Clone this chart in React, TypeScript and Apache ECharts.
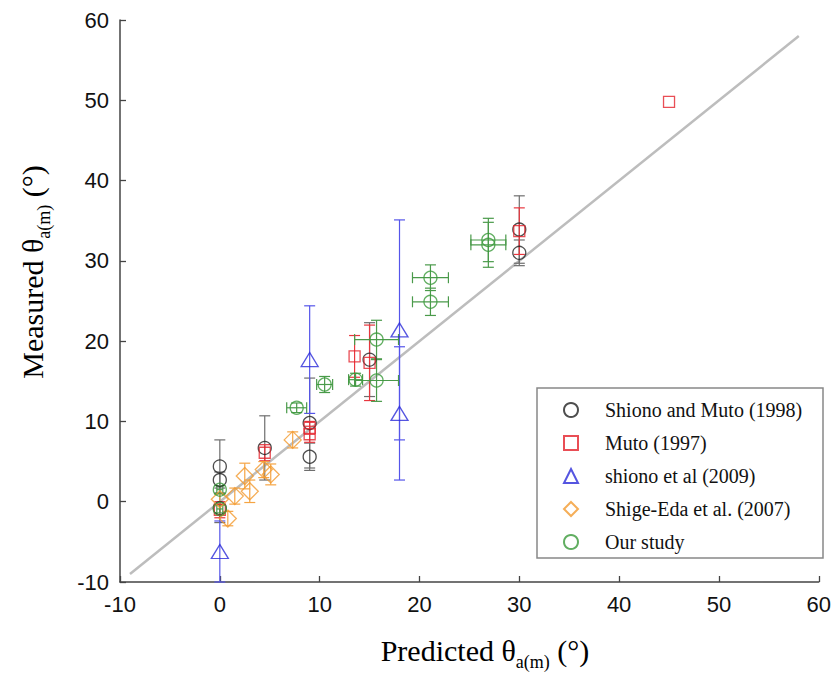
import React, { useEffect, useRef } from "react";
import * as echarts from "echarts";

// Shiono and Muto (1998): [predicted, measured, yErr]
const shionoMuto1998: number[][] = [
  [0, 4.4, 3.3],
  [0, 2.7, 1.0],
  [0, -0.8, 1.8],
  [4.5, 6.7, 4.0],
  [9, 9.8, 5.6],
  [9, 5.6, 1.7],
  [15, 17.7, 4.6],
  [30, 33.9, 4.2],
  [30, 31.0, 1.6],
];
// Muto (1997)
const muto1997: number[][] = [
  [0, -1.0, 1.0],
  [4.5, 6.1, 1.0],
  [9, 9.2, 0.8],
  [9, 8.4, 1.0],
  [13.5, 18.1, 2.6],
  [15, 17.3, 4.7],
  [30, 33.7, 2.9],
  [45, 49.8, 0],
];
// shiono et al (2009)
const shiono2009: number[][] = [
  [0, -6.2, 3.8],
  [9, 17.7, 6.7],
  [18, 21.4, 13.7],
  [18, 11.0, 8.3],
];
// Shige-Eda et al. (2007)
const shigeEda2007: number[][] = [
  [0, 0.3, 0.7],
  [0.8, -2.1, 0.9],
  [1.5, 0.7, 1.0],
  [2.5, 3.2, 1.6],
  [3.0, 1.3, 1.4],
  [4.4, 4.0, 1.0],
  [5.1, 3.4, 1.3],
  [7.3, 7.7, 1.0],
];
// Our study: [predicted, measured, yErr, xErr]
const ourStudy: number[][] = [
  [0, 1.5, 0.5, 0.3],
  [0, -0.9, 0.5, 0.3],
  [7.7, 11.7, 0.6, 1.0],
  [10.5, 14.6, 1.0, 0.8],
  [13.6, 15.2, 0.8, 0.7],
  [15.7, 15.1, 2.6, 2.2],
  [15.7, 20.2, 2.4, 2.2],
  [21.1, 27.9, 1.6, 1.8],
  [21.1, 24.9, 1.7, 1.8],
  [26.9, 32.0, 2.8, 1.75],
  [26.9, 32.6, 2.7, 1.75],
];
const identityLine: number[][] = [
  [-9, -9],
  [58, 58],
];
const axisTicks = { min: -10, max: 60, interval: 10 };
const seriesNames = [
  "Shiono and Muto (1998)",
  "Muto (1997)",
  "shiono et al (2009)",
  "Shige-Eda et al. (2007)",
  "Our study",
];

const CAP = 5.5;

function makeErrRender(color: string) {
  return (params: any, api: any) => {
    const x = api.value(0);
    const y = api.value(1);
    const ey = api.value(2) || 0;
    const ex = api.value(3) || 0;
    const style = { stroke: color, lineWidth: 1.2, fill: "none" };
    const children: any[] = [];
    if (ey > 0) {
      const t = api.coord([x, y + ey]);
      const b = api.coord([x, y - ey]);
      children.push({ type: "line", shape: { x1: t[0], y1: t[1], x2: b[0], y2: b[1] }, style });
      children.push({ type: "line", shape: { x1: t[0] - CAP, y1: t[1], x2: t[0] + CAP, y2: t[1] }, style });
      children.push({ type: "line", shape: { x1: b[0] - CAP, y1: b[1], x2: b[0] + CAP, y2: b[1] }, style });
    }
    if (ex > 0) {
      const l = api.coord([x - ex, y]);
      const r = api.coord([x + ex, y]);
      children.push({ type: "line", shape: { x1: l[0], y1: l[1], x2: r[0], y2: r[1] }, style });
      children.push({ type: "line", shape: { x1: l[0], y1: l[1] - CAP, x2: l[0], y2: l[1] + CAP }, style });
      children.push({ type: "line", shape: { x1: r[0], y1: r[1] - CAP, x2: r[0], y2: r[1] + CAP }, style });
    }
    return { type: "group", children };
  };
}

const groups = [
  { name: seriesNames[0], data: shionoMuto1998, symbol: "circle", size: 13, color: "#222222", err: "#6e6e6e" },
  { name: seriesNames[1], data: muto1997, symbol: "rect", size: 11, color: "#e3222b", err: "#e8363e" },
  { name: seriesNames[2], data: shiono2009, symbol: "triangle", size: [17, 14], color: "#2b2bd8", err: "#5555ea" },
  { name: seriesNames[3], data: shigeEda2007, symbol: "diamond", size: 17, color: "#f39a2e", err: "#f5a443" },
  { name: seriesNames[4], data: ourStudy, symbol: "circle", size: 13, color: "#3a9a3a", err: "#4a9a4a" },
];

export default function App() {
  const ref = useRef<HTMLDivElement>(null);
  useEffect(() => {
    if (!ref.current) return;
    const chart = echarts.init(ref.current, null, { renderer: "svg" });
    const series: any[] = [
      {
        type: "line",
        name: "identity",
        data: identityLine,
        symbol: "none",
        lineStyle: { color: "#bdbdbd", width: 2.5 },
        z: 1,
        silent: true,
      },
    ];
    groups.forEach((g, i) => {
      series.push({
        type: "custom",
        name: "err" + i,
        data: g.data.map((d) => [d[0], d[1], d[2] || 0, d[3] || 0]),
        encode: { x: 0, y: 1 },
        renderItem: makeErrRender(g.err),
        z: 2,
        silent: true,
      });
    });
    groups.forEach((g) => {
      series.push({
        type: "scatter",
        name: g.name,
        data: g.data.map((d) => [d[0], d[1]]),
        symbol: g.symbol,
        symbolSize: g.size,
        itemStyle: { color: "transparent", borderColor: g.color, borderWidth: 1.3 },
        z: 3,
      });
    });

    const mainFont = "'Liberation Serif', 'Times New Roman', serif";
    const titleRich = {
      m: { fontFamily: mainFont, fontSize: 30, color: "#111", lineHeight: 42, verticalAlign: "middle" },
      s: { fontFamily: mainFont, fontSize: 18, color: "#111", lineHeight: 42, verticalAlign: "bottom" },
    };

    chart.setOption({
      animation: false,
      backgroundColor: "#ffffff",
      grid: { left: 120, right: 14, top: 20, bottom: 93, containLabel: false },
      xAxis: {
        type: "value",
        ...axisTicks,
        axisLine: { show: true, onZero: false, lineStyle: { color: "#444", width: 1.5 } },
        axisTick: { show: true, inside: true, length: 6, lineStyle: { color: "#444", width: 1.3 } },
        axisLabel: { fontFamily: "'Liberation Sans', Arial, sans-serif", fontSize: 22, color: "#111", margin: 11 },
        splitLine: { show: false },
      },
      yAxis: {
        type: "value",
        ...axisTicks,
        axisLine: { show: true, onZero: false, lineStyle: { color: "#444", width: 1.5 } },
        axisTick: { show: true, inside: true, length: 6, lineStyle: { color: "#444", width: 1.3 } },
        axisLabel: { fontFamily: "'Liberation Sans', Arial, sans-serif", fontSize: 22, color: "#111", margin: 11 },
        splitLine: { show: false },
      },
      legend: {
        show: true,
        data: seriesNames,
        orient: "vertical",
        left: 563,
        top: 400,
        itemWidth: 14,
        itemHeight: 14,
        itemGap: 13,
        padding: 0,
        selectedMode: false,
        textStyle: {
          fontFamily: mainFont,
          fontSize: 20,
          color: "#111",
          lineHeight: 20,
          padding: [0, 0, 0, 22],
        },
      },
      graphic: [
        {
          type: "rect",
          shape: { x: 537, y: 388, width: 286, height: 170 },
          style: { fill: "#fff", stroke: "#888", lineWidth: 1.5 },
          z: 0,
          silent: true,
        },
        {
          type: "text",
          x: 485,
          y: 650,
          style: {
            text: "{m|Predicted θ}{s|a(m)}{m| (°)}",
            rich: titleRich,
            align: "center",
            verticalAlign: "middle",
          },
        },
        {
          type: "text",
          x: 32,
          y: 272,
          rotation: Math.PI / 2,
          style: {
            text: "{m|Measured θ}{s|a(m)}{m| (°)}",
            rich: titleRich,
            align: "center",
            verticalAlign: "middle",
          },
        },
      ],
      series,
    });
    return () => chart.dispose();
  }, []);
  return <div ref={ref} style={{ width: 834, height: 675, position: "absolute", left: 0, top: 0 }} />;
}
